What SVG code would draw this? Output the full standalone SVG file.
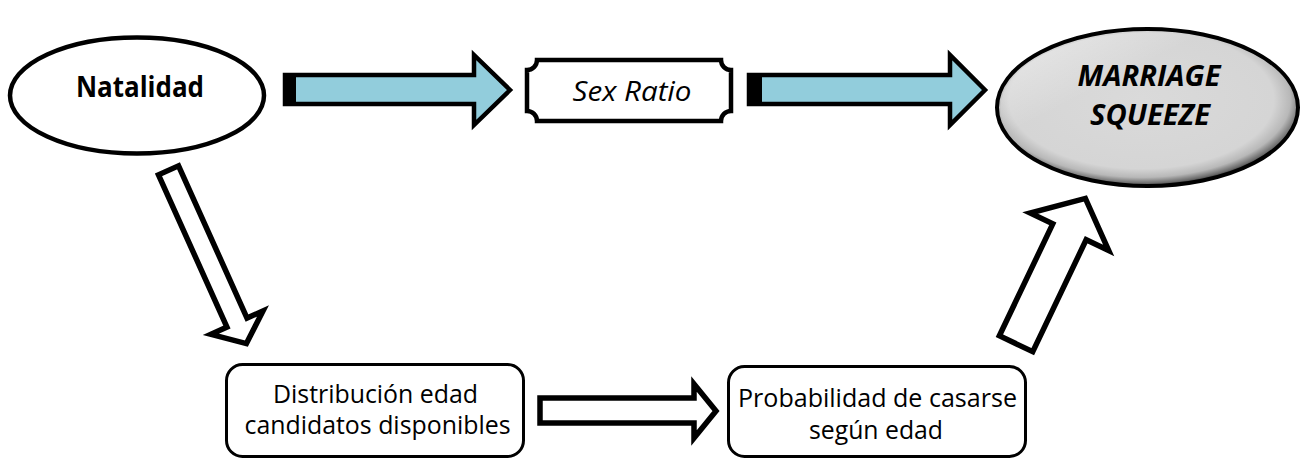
<svg xmlns="http://www.w3.org/2000/svg" width="1301" height="460" viewBox="0 0 1301 460">
<defs>
<radialGradient id="gray" cx="0.48" cy="0.45" r="0.55">
<stop offset="0" stop-color="#dadada"/>
<stop offset="0.8" stop-color="#d5d5d5"/>
<stop offset="0.9" stop-color="#b8b8b8"/>
<stop offset="0.97" stop-color="#6a6a6a"/>
<stop offset="1" stop-color="#303030"/>
</radialGradient>
<linearGradient id="hl" x1="0" y1="0" x2="1" y2="1">
<stop offset="0" stop-color="#ffffff" stop-opacity="0.9"/>
<stop offset="0.35" stop-color="#ffffff" stop-opacity="0"/>
</linearGradient>
</defs>
<style>
.txt{font-family:"Open Sans","Liberation Sans",sans-serif;fill:#000;text-anchor:middle}
.box{fill:#fff;stroke:#000;stroke-width:3}
.node{fill:#fff;stroke:#000;stroke-width:4.5}
.blue{fill:#92cddc;stroke:#000;stroke-width:4.5;stroke-linejoin:miter}
.white{fill:#fff;stroke:#000;stroke-width:5.5;stroke-linejoin:miter}
</style>
<rect width="1301" height="460" fill="#fff"/>
<g id="connectors">
<g id="arrow-natalidad-sexratio">
<path class="blue" d="M285,75 H474 V55 L510,90 L474,125 V104 H285 Z"/>
<rect x="283" y="73" width="13" height="33" fill="#000"/>
</g>
<g id="arrow-sexratio-marriage">
<path class="blue" d="M749,75 H950 V55 L985,90 L950,125 V104 H749 Z"/>
<rect x="747" y="73" width="15" height="33" fill="#000"/>
</g>
<path id="arrow-natalidad-distribucion" class="white" transform="translate(167.5,168) rotate(65.8)" d="M2.5,-11 L169.5,-11 L169.5,-28.5 L192.5,0 L169.5,28.5 L169.5,11 L2.5,11 Z"/>
<path id="arrow-distribucion-probabilidad" class="white" d="M540,398 H694 V384 L716,411 L694,438 V423 H540 Z"/>
<path id="arrow-probabilidad-marriage" class="white" transform="translate(1015,346) rotate(-64.5)" d="M2.5,-18.5 L126.5,-18.5 L126.5,-43.5 L163.5,0 L126.5,43.5 L126.5,18.5 L2.5,18.5 Z"/>
</g>
<g id="natalidad">
<ellipse class="node" cx="137" cy="95.5" rx="127" ry="58"/>
<text class="txt" x="140" y="97" font-size="28" font-weight="bold" textLength="128" lengthAdjust="spacingAndGlyphs">Natalidad</text>
</g>
<g id="sexratio">
<path class="node" d="M537,60 H721 A10,10 0 0 0 731,70 V111 A10,10 0 0 0 721,121 H537 A10,10 0 0 0 527,111 V70 A10,10 0 0 0 537,60 Z"/>
<text class="txt" x="632" y="101" font-size="27.5" font-style="italic" textLength="119" lengthAdjust="spacingAndGlyphs">Sex Ratio</text>
</g>
<g id="marriage">
<ellipse cx="1147.5" cy="107.5" rx="150.5" ry="78.5" fill="url(#gray)" stroke="#000" stroke-width="4"/>
<ellipse cx="1147.5" cy="107.5" rx="147" ry="75" fill="url(#hl)" opacity="0.6"/>
<text class="txt" x="1149" y="86" font-size="28.5" font-weight="bold" font-style="italic" textLength="143" lengthAdjust="spacingAndGlyphs">MARRIAGE</text>
<text class="txt" x="1150" y="125" font-size="28.5" font-weight="bold" font-style="italic" textLength="120" lengthAdjust="spacingAndGlyphs">SQUEEZE</text>
</g>
<g id="distribucion">
<rect class="box" x="226.5" y="364.5" width="297" height="92" rx="16"/>
<text class="txt" x="375.5" y="403" font-size="25.5" textLength="205" lengthAdjust="spacingAndGlyphs">Distribución edad</text>
<text class="txt" x="377.5" y="434" font-size="25.5" textLength="266" lengthAdjust="spacingAndGlyphs">candidatos disponibles</text>
</g>
<g id="probabilidad">
<rect class="box" x="728.5" y="366.5" width="297" height="90" rx="16"/>
<text class="txt" x="877.5" y="407" font-size="25.5" textLength="279" lengthAdjust="spacingAndGlyphs">Probabilidad de casarse</text>
<text class="txt" x="876" y="439" font-size="25.5" textLength="134" lengthAdjust="spacingAndGlyphs">según edad</text>
</g>
</svg>
